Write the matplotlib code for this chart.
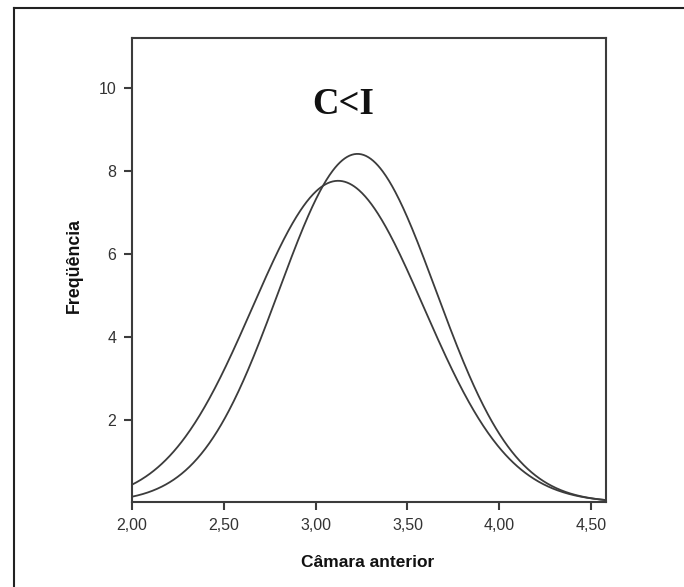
import numpy as np
import matplotlib.pyplot as plt
from matplotlib.lines import Line2D
from matplotlib.ticker import FuncFormatter

# normal curves (SPSS style): mean, sd and peak height of each group
group_means = [3.123, 3.228]
group_sds = [0.466, 0.428]
group_peaks = [7.77, 8.42]

x_ticks = [2.0, 2.5, 3.0, 3.5, 4.0, 4.5]
y_ticks = [2, 4, 6, 8, 10]
title_text = 'C<I'
x_label = 'Câmara anterior'
y_label = 'Freqüência'

dark = '#3c3c3c'

fig = plt.figure(figsize=(6.84, 5.87), dpi=100)
ax = fig.add_axes([0.1925, 0.1440, 0.6935, 0.7913])

xx = np.linspace(2.0, 4.58, 600)
for mu, sd, pk in zip(group_means, group_sds, group_peaks):
    ax.plot(xx, pk * np.exp(-(xx - mu) ** 2 / (2 * sd ** 2)), color=dark, lw=1.3)

ax.set_xlim(2.0, 4.58)
ax.set_ylim(0, 11.22)
ax.set_xticks(x_ticks)
ax.set_yticks(y_ticks)
ax.xaxis.set_major_formatter(FuncFormatter(lambda v, p: f'{v:.2f}'.replace('.', ',')))
ax.yaxis.set_major_formatter(FuncFormatter(lambda v, p: f'{v:g}'))

for s in ax.spines.values():
    s.set_color(dark)
    s.set_linewidth(1.5)
ax.tick_params(direction='out', length=6, width=1.5, color=dark,
               labelsize=11.5, labelcolor='#333333', pad=5)
for lab in ax.get_xticklabels() + ax.get_yticklabels():
    lab.set_family('Liberation Sans')

ax.text(3.15, 9.62, title_text, family='Liberation Serif', fontweight='bold',
        fontsize=26.5, ha='center', va='center', color='#111111')

ax.set_xlabel(x_label, family='Liberation Sans', fontweight='bold', fontsize=12.5, color='#111111')
ax.set_ylabel(y_label, family='Liberation Sans', fontweight='bold', fontsize=12.8, color='#111111')
ax.xaxis.set_label_coords(0.498, -0.13)
ax.xaxis.label.set_va('center')
ax.yaxis.set_label_coords(-0.12, 0.51)
ax.yaxis.label.set_va('center')

# outer frame (top and left edges only visible)
fx = 14 / 684
fy = 1 - 8 / 587
fig.add_artist(Line2D([fx, 1], [fy, fy], transform=fig.transFigure, color='#222222', lw=1.5))
fig.add_artist(Line2D([fx, fx], [0, fy], transform=fig.transFigure, color='#222222', lw=1.5))

fig.savefig('out.png', dpi=100)
